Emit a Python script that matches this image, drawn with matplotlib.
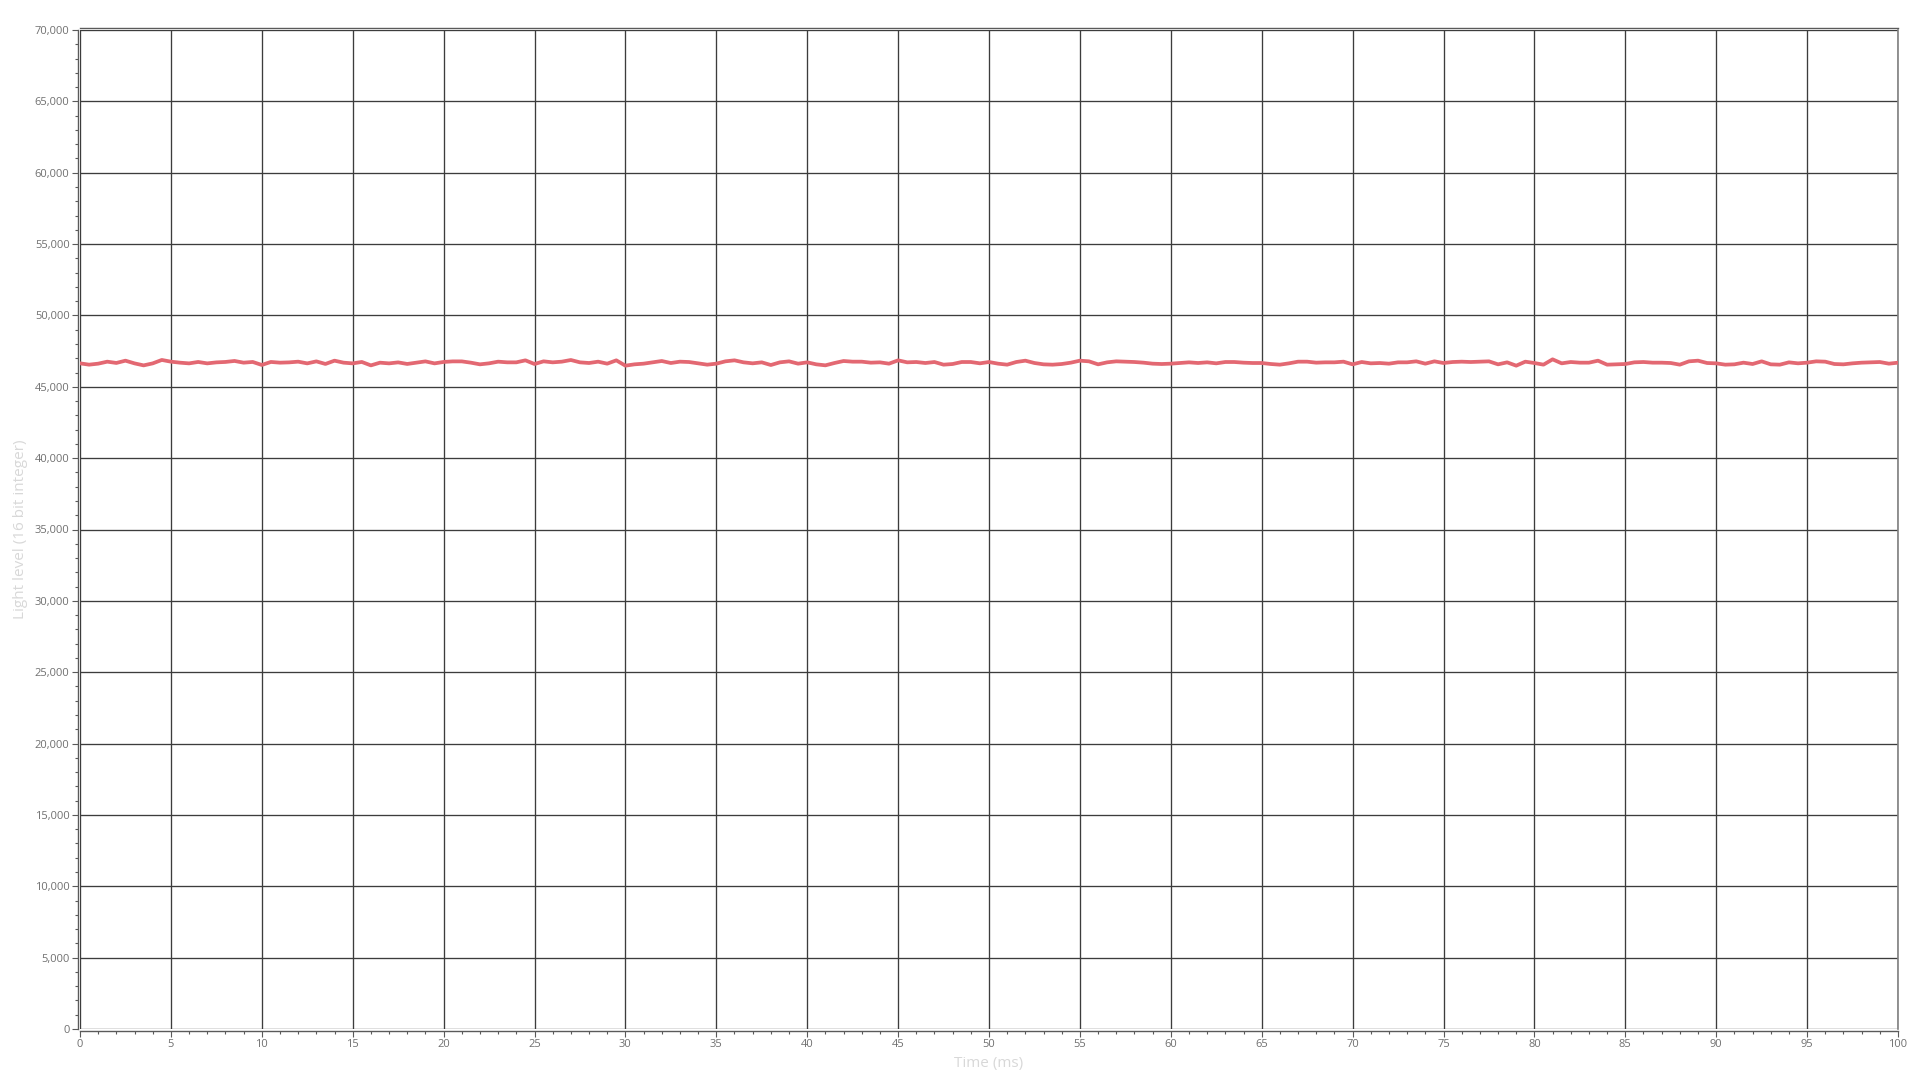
import numpy as np
import matplotlib.pyplot as plt
from matplotlib.ticker import MultipleLocator, StrMethodFormatter

# Light level samples, every 0.5 ms
light_0_21 = [46643, 46550, 46620, 46760, 46670, 46830, 46640, 46500, 46640, 46880,
              46760, 46690, 46640, 46740, 46640, 46710, 46740, 46810, 46690, 46740,
              46530, 46740, 46690, 46710, 46760, 46640, 46780, 46600, 46830, 46690,
              46640, 46740, 46500, 46690, 46640, 46710, 46600, 46690, 46780, 46640,
              46740, 46780, 46780, 46690]
light_22_45 = [46573, 46643, 46760, 46713, 46713, 46853, 46596, 46783, 46713, 46760,
               46876, 46713, 46666, 46760, 46620, 46853, 46480, 46573, 46620, 46713,
               46806, 46666, 46760, 46736, 46643, 46550, 46620, 46783, 46853, 46713,
               46643, 46713, 46526, 46713, 46783, 46620, 46713, 46573, 46503, 46666,
               46806, 46760, 46760, 46690, 46713, 46620, 46853, 46713]
light_46_67 = [46736, 46666, 46736, 46550, 46596, 46736, 46736, 46643, 46736, 46620,
               46550, 46736, 46830, 46666, 46573, 46550, 46596, 46690, 46830, 46783,
               46573, 46713, 46783, 46760, 46736, 46690, 46620, 46596, 46620, 46666,
               46713, 46666, 46713, 46643, 46736, 46736, 46690, 46666, 46666, 46596,
               46550, 46643, 46760]
light_67_78 = [46760, 46690, 46713, 46713, 46760, 46573, 46736, 46643, 46666, 46620,
               46713, 46713, 46783, 46620, 46783, 46666, 46736, 46760, 46736, 46760,
               46783, 46573, 46713]
light_79_100 = [46480, 46760, 46666, 46550, 46923, 46643, 46736, 46690, 46690, 46830,
                46550, 46573, 46596, 46713, 46736, 46690, 46690, 46666, 46550, 46783,
                46830, 46666, 46643, 46550, 46573, 46690, 46596, 46783, 46573, 46550,
                46713, 46643, 46690, 46783, 46760, 46596, 46573, 46643, 46690, 46713,
                46736, 46620, 46690]

light = np.array(light_0_21 + light_22_45 + light_46_67 + light_67_78 + light_79_100)
time_ms = np.arange(len(light)) * 0.5

fig = plt.figure(figsize=(19.2, 10.8), dpi=100)
ax = fig.add_axes([80 / 1920, 1 - 1029 / 1080, 1818 / 1920, 999 / 1080])

ax.plot(time_ms, light, color='#e36872', linewidth=2.7, solid_joinstyle='round', zorder=3)

ax.set_xlim(0, 100)
ax.set_ylim(0, 70000)
ax.xaxis.set_major_locator(MultipleLocator(5))
ax.xaxis.set_minor_locator(MultipleLocator(1))
ax.yaxis.set_major_locator(MultipleLocator(5000))
ax.yaxis.set_minor_locator(MultipleLocator(1000))
ax.yaxis.set_major_formatter(StrMethodFormatter('{x:,.0f}'))

ax.grid(True, which='major', color='#3c3c3c', linewidth=0.95)

for side in ['left', 'bottom', 'top']:
    ax.spines[side].set_position(('outward', 1.5))
    ax.spines[side].set_color('#5a5a5a')
    ax.spines[side].set_linewidth(1.0)
ax.spines['right'].set_color('#808080')
ax.spines['right'].set_linewidth(1.2)

ax.tick_params(axis='both', which='major', length=4, width=0.8, color='#5a5a5a',
               labelsize=8, labelcolor='#707070', pad=2)
ax.tick_params(axis='both', which='minor', length=2.5, width=0.8, color='#5a5a5a')
for lbl in ax.get_xticklabels() + ax.get_yticklabels():
    lbl.set_fontfamily('Open Sans')

ax.set_xlabel('Time (ms)', fontsize=11, color='#d8d8d8', family='Open Sans', labelpad=4)
ax.set_ylabel('Light level (16 bit integer)', fontsize=11, color='#d8d8d8',
              family='Open Sans', labelpad=5)

fig.savefig('out.png', dpi=100, facecolor='white')
